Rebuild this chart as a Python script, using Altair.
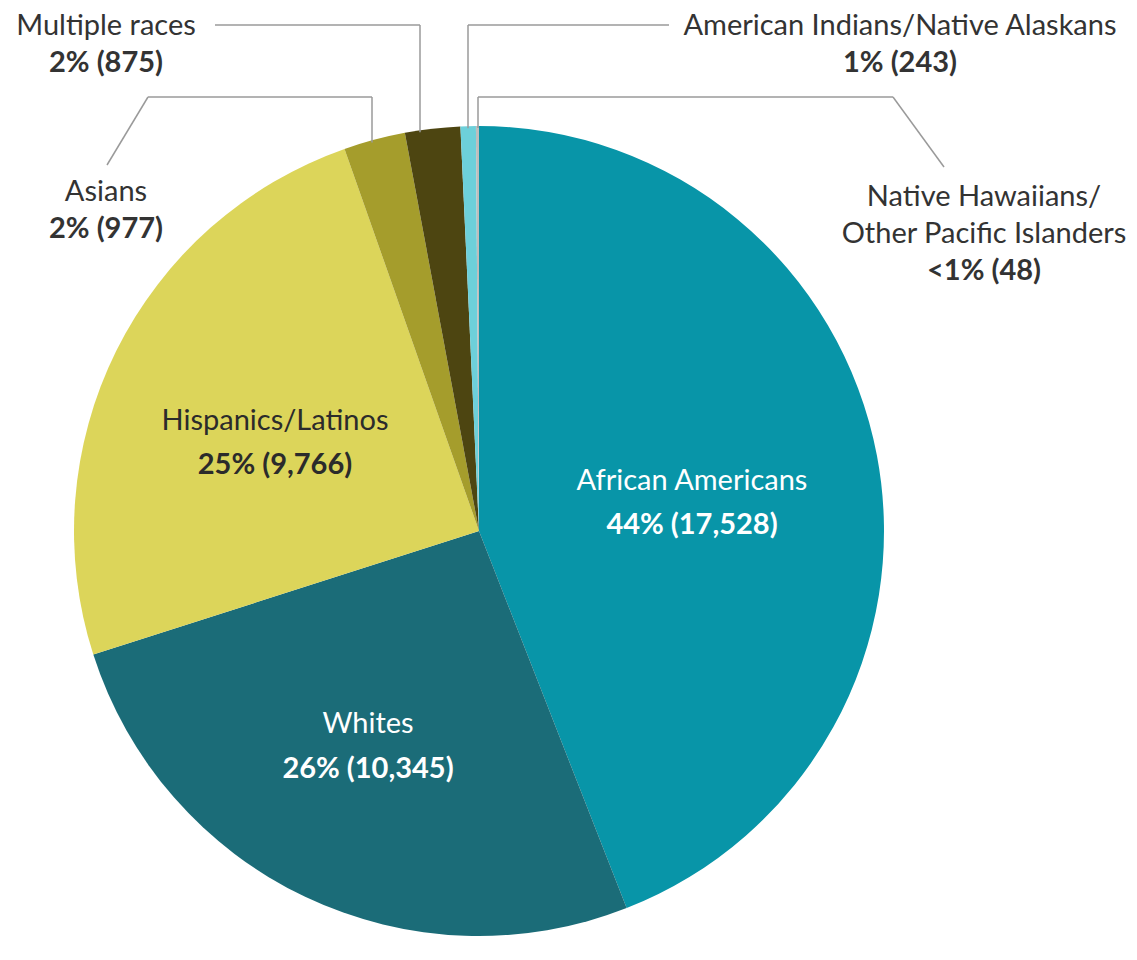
import math
import altair as alt
import pandas as pd

# ---- data ----
groups = ["African Americans", "Whites", "Hispanics/Latinos", "Asians",
          "Multiple races", "American Indians/Native Alaskans",
          "Native Hawaiians/Other Pacific Islanders"]
counts = [17528, 10345, 9766, 977, 875, 243, 48]
pct_labels = ["44% (17,528)", "26% (10,345)", "25% (9,766)", "2% (977)",
              "2% (875)", "1% (243)", "<1% (48)"]
colors = ["#0895A8", "#1B6C78", "#DCD55A", "#A59D2C", "#4D4511", "#6DD0DA", "#BDBDBD"]

df = pd.DataFrame({"group": groups, "count": counts, "idx": list(range(len(groups)))})

FONT = "Lato"
OFF = 8  # page margin
PCX, PCY, R = 479, 531, 405   # page coords of pie centre
CX, CY = PCX - OFF, PCY - OFF

pie = alt.Chart(df).mark_arc(radius=R).encode(
    theta=alt.Theta("count:Q", stack=True),
    color=alt.Color("group:N", scale=alt.Scale(domain=groups, range=colors), legend=None),
    order=alt.Order("idx:Q"),
    x=alt.value(CX),
    y=alt.value(CY),
)

layers = [pie]


def text(t, x, y, bold=False, color="#333333", size=29):
    return alt.Chart(pd.DataFrame({"t": [t]})).mark_text(
        font=FONT, fontSize=size, fontWeight="bold" if bold else "normal",
        align="center", baseline="alphabetic", color=color,
    ).encode(text="t:N", x=alt.value(x - OFF), y=alt.value(y - OFF))


def seg(x1, y1, x2, y2):
    return alt.Chart(pd.DataFrame({"a": [0]})).mark_rule(
        color="#9a9a9a", strokeWidth=1.5
    ).encode(x=alt.value(x1 - OFF), y=alt.value(y1 - OFF),
             x2=alt.value(x2 - OFF), y2=alt.value(y2 - OFF))


def edge_y(x):
    dx = x - PCX
    return PCY - math.sqrt(R * R - dx * dx) + 2


outside = [
    (["Multiple races"], 4, 106, 35, 72),
    (["Asians"], 3, 106, 201, 238),
    (["American Indians/Native Alaskans"], 5, 900, 35, 72),
    (["Native Hawaiians/", "Other Pacific Islanders"], 6, 984, 206, 280),
]
for lines, i, x, y, y2 in outside:
    for k, ln in enumerate(lines):
        layers.append(text(ln, x, y + 37 * k))
    layers.append(text(pct_labels[i], x, y2, bold=True))

inside = [
    ("Hispanics/Latinos", 2, 275, 430, 474, "#2b2b2b"),
    ("African Americans", 0, 692, 490, 534, "#ffffff"),
    ("Whites", 1, 368, 733, 778, "#ffffff"),
]
for name, i, x, y, y2, c in inside:
    layers.append(text(name, x, y, color=c))
    layers.append(text(pct_labels[i], x, y2, bold=True, color=c))

# leader lines
layers += [
    seg(215, 25, 420, 25), seg(420, 25, 420, edge_y(420)),
    seg(107, 165, 148, 97), seg(148, 97, 372, 97), seg(372, 97, 372, edge_y(372)),
    seg(468, 25, 669, 25), seg(468, 25, 468, edge_y(468)),
    seg(478, 97, 478, edge_y(478)), seg(478, 97, 893, 97), seg(893, 97, 944, 167),
]

chart = alt.layer(*layers).properties(
    width=1121, height=944, padding=0,
    autosize=alt.AutoSizeParams(type="none"),
).configure_view(strokeWidth=0)

chart.save("out.html", embed_options={"renderer": "svg", "actions": False})
